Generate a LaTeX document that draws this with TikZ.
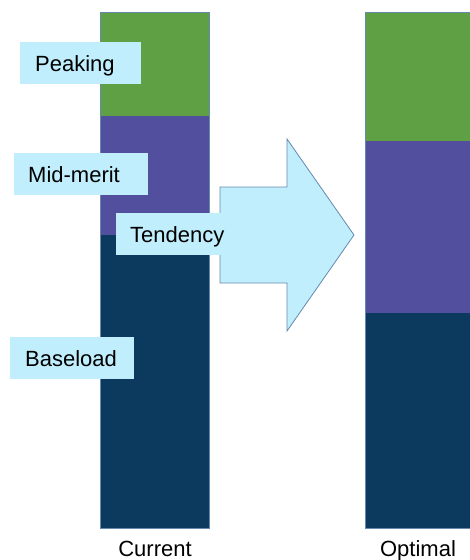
\documentclass[tikz,border=0pt]{standalone}
\usepackage{fontspec}
\setmainfont{Liberation Sans}
\definecolor{peakgreen}{HTML}{5FA044}
\definecolor{midpurple}{HTML}{524F9F}
\definecolor{basenavy}{HTML}{0C3A5E}
\definecolor{labelcyan}{HTML}{C0EEFC}
\definecolor{edgeblue}{HTML}{6689AD}
\begin{document}
\begin{tikzpicture}[x=1pt,y=-1pt,
  seg/.style={draw=edgeblue,line width=0.6pt},
  lbl/.style={fill=labelcyan,anchor=west,minimum height=42pt,inner xsep=15pt,inner ysep=0pt,text height=18pt,text depth=1pt,align=left,font=\fontsize{22}{24}\selectfont},
  captiontext/.style={font=\fontsize{22}{24}\selectfont,inner sep=0pt,anchor=base}]
\useasboundingbox (0,0) rectangle (470,560);
% Current bar
\fill[peakgreen] (100,12) rectangle (209,116);
\fill[midpurple] (100,116) rectangle (209,235);
\fill[basenavy] (100,235) rectangle (209,528);
\draw[seg] (100,12) rectangle (209,528);
% Optimal bar
\fill[peakgreen] (365,12) rectangle (472,141);
\fill[midpurple] (365,141) rectangle (472,313);
\fill[basenavy] (365,313) rectangle (472,528);
\draw[seg] (472,12) -- (365,12) -- (365,528) -- (472,528);
% labels
\node[lbl,text width=91pt] (peak) at (20,63) {Peaking};
\node[lbl,inner xsep=14pt,text width=106pt] (mid) at (14,174) {Mid-merit};
\node[lbl,text width=94pt] (base) at (10,358) {Baseload};
% arrow
\draw[fill=labelcyan,draw=edgeblue,line width=0.8pt,line join=miter]
  (220,187) -- (287,187) -- (287,139) -- (354,235) -- (287,331) -- (287,283) -- (220,283) -- cycle;
\node[lbl,inner xsep=14pt,text width=88pt] (tend) at (116,234) {Tendency};
% captions
\node[captiontext] (cur) at (155,556) {Current};
\node[captiontext] (opt) at (418,556) {Optimal};
\end{tikzpicture}
\end{document}
